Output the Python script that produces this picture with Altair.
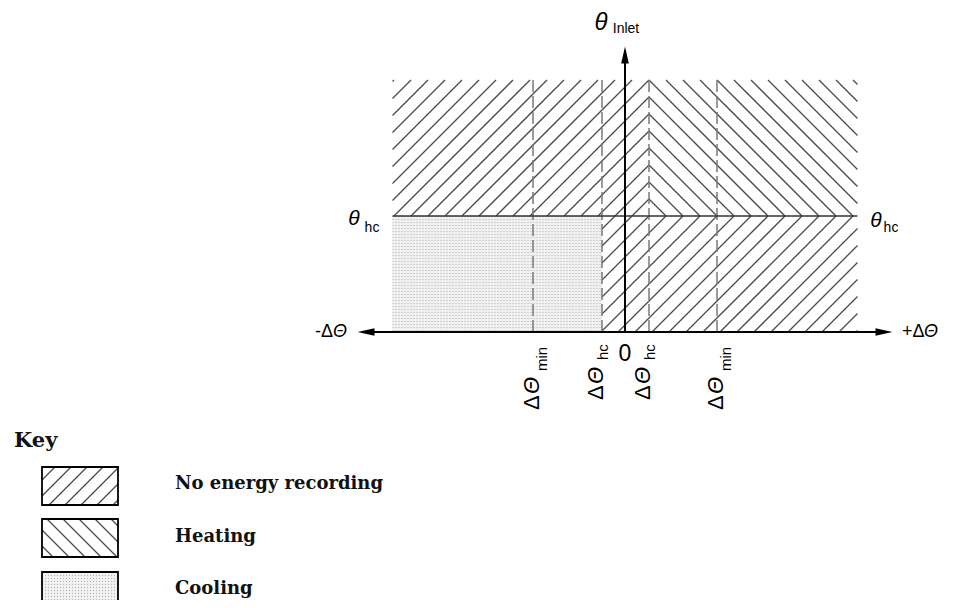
import altair as alt
import pandas as pd
import numpy as np

# ---------------- diagram values (ΔΘ horizontal, θ_Inlet vertical) ----------------
dtheta_min = 92
dtheta_hc_neg = -23
dtheta_hc_pos = 24
theta_hc = 116
theta_top = 252
dtheta_left = -232.5
dtheta_right = 232.5
axis_half = 267
theta_axis_tip = 285

tick_values = [-92, -23, 24, 92]
tick_subscripts = ["min", "hc", "hc", "min"]

region_names = ["No energy recording", "Heating", "No energy recording", "Cooling"]
region_x0 = [-232.5, 24, -23, -232.5]
region_x1 = [24, 232.5, 232.5, -23]
region_y0 = [116, 116, 0, 0]
region_y1 = [252, 252, 116, 116]
region_hatch = ["/", "\\", "/", "dots"]

key_title = "Key"
key_labels = ["No energy recording", "Heating", "Cooling"]
key_hatch = ["/", "\\", "dots"]

# ---------------- scales (1 unit = 1 px) ----------------
W, H = 939, 592
xs = alt.Scale(domain=[-617, 322], nice=False, zero=False)
ys = alt.Scale(domain=[-268, 324], nice=False, zero=False)

HATCH_COLOR = "#4a4a4a"
FONT = "Liberation Sans"
KEY_FONT = "DejaVu Serif"


def hatch_segments(x0, x1, y0, y1, kind, spacing, phase):
    segs = []
    if kind == "/":  # y = x + c  (rises to the right)
        cmin, cmax = y0 - x1, y1 - x0
        k0 = int(np.ceil((cmin - phase) / spacing))
        k1 = int(np.floor((cmax - phase) / spacing))
        for k in range(k0, k1 + 1):
            c = phase + k * spacing
            xa, xb = max(x0, y0 - c), min(x1, y1 - c)
            if xb - xa > 0.3:
                segs.append((xa, xa + c, xb, xb + c))
    else:  # y = -x + c  (falls to the right)
        cmin, cmax = x0 + y0, x1 + y1
        k0 = int(np.ceil((cmin - phase) / spacing))
        k1 = int(np.floor((cmax - phase) / spacing))
        for k in range(k0, k1 + 1):
            c = phase + k * spacing
            xa, xb = max(x0, c - y1), min(x1, c - y0)
            if xb - xa > 0.3:
                segs.append((xa, c - xa, xb, c - xb))
    return segs


def dot_rows(x0, x1, y0, y1, step=3):
    rows = []
    y = y0 + 1.5
    while y < y1:
        rows.append((x0, y, x1, y))
        y += step
    return rows


def seg_df(segs):
    return pd.DataFrame(segs, columns=["x", "y", "x2", "y2"])


def rules(df, **kw):
    return alt.Chart(df).mark_rule(**kw).encode(
        x=alt.X("x:Q", scale=xs, axis=None),
        y=alt.Y("y:Q", scale=ys, axis=None),
        x2="x2:Q",
        y2="y2:Q",
    )


def rects(df, **kw):
    return alt.Chart(df).mark_rect(**kw).encode(
        x=alt.X("x:Q", scale=xs, axis=None),
        y=alt.Y("y:Q", scale=ys, axis=None),
        x2="x2:Q",
        y2="y2:Q",
    )


def texts(rows, **kw):
    df = pd.DataFrame(rows, columns=["x", "y", "t"])
    return alt.Chart(df).mark_text(**kw).encode(
        x=alt.X("x:Q", scale=xs, axis=None),
        y=alt.Y("y:Q", scale=ys, axis=None),
        text="t:N",
    )


layers = []

# ---------------- region fills and hatching ----------------
hatch_all, dots_all, dot_fill = [], [], []
for x0, x1, y0, y1, h in zip(region_x0, region_x1, region_y0, region_y1, region_hatch):
    if h == "/":
        hatch_all += hatch_segments(x0, x1, y0, y1, "/", 17, 7)
    elif h == "\\":
        hatch_all += hatch_segments(x0, x1, y0, y1, "\\", 17, 4)
    else:
        dot_fill.append((x0, y0, x1, y1))
        dots_all += dot_rows(x0, x1, y0, y1)

layers.append(rects(seg_df(dot_fill), color="#f0f0f0"))
layers.append(rules(seg_df(dots_all), color="#b0b0b0", strokeWidth=1, strokeDash=[1, 2]))
layers.append(rules(seg_df(hatch_all), color=HATCH_COLOR, strokeWidth=1.3))

# dashed reference lines
dash_df = pd.DataFrame({"x": tick_values, "x2": tick_values,
                        "y": [0] * 4, "y2": [theta_top] * 4})
layers.append(rules(dash_df, color="#7a7a7a", strokeWidth=1.5, strokeDash=[12, 4]))

# θ_hc line
layers.append(rules(seg_df([(dtheta_left, theta_hc, dtheta_right, theta_hc)]),
                    color="#333333", strokeWidth=1.5))

# axes
layers.append(rules(seg_df([(-axis_half + 8, 0, axis_half - 8, 0),
                            (0, 0, 0, theta_axis_tip - 8)]),
                    color="black", strokeWidth=2))

arrow_right = "M-1,-0.45L1,0L-1,0.45Z"
arrow_left = "M1,-0.45L-1,0L1,0.45Z"
arrow_up = "M-0.45,1L0,-1L0.45,1Z"
for shp, ax, ay in [(arrow_right, axis_half - 8, 0), (arrow_left, -axis_half + 8, 0),
                    (arrow_up, 0, theta_axis_tip - 8)]:
    layers.append(
        alt.Chart(pd.DataFrame({"x": [ax], "y": [ay]}))
        .mark_point(shape=shp, filled=True, size=289, color="black", opacity=1)
        .encode(x=alt.X("x:Q", scale=xs, axis=None), y=alt.Y("y:Q", scale=ys, axis=None))
    )

# ---------------- axis labels ----------------
layers.append(texts([(-24, 309, "θ")],
                    font=FONT, fontSize=24, fontStyle="italic", baseline="middle", align="center"))
layers.append(texts([(-271, 113, "θ"), (251, 111, "θ")],
                    font=FONT, fontSize=21, fontStyle="italic", baseline="middle", align="center"))
layers.append(texts([(1, 303, "Inlet")],
                    font=FONT, fontSize=14, baseline="middle", align="center"))
layers.append(texts([(-253, 104, "hc"), (266, 104, "hc")],
                    font=FONT, fontSize=14, baseline="middle", align="center"))
layers.append(texts([(0, -22, "0")], font=FONT, fontSize=23, baseline="middle", align="center"))
# -ΔΘ / +ΔΘ
layers.append(texts([(-292, 0, "-Δ")], font=FONT, fontSize=18, baseline="middle", align="right"))
layers.append(texts([(-278, 0, "Θ")], font=FONT, fontSize=18, fontStyle="italic",
                    baseline="middle", align="right"))
layers.append(texts([(277, 0, "+Δ")], font=FONT, fontSize=18, baseline="middle", align="left"))
layers.append(texts([(299, 0, "Θ")], font=FONT, fontSize=18, fontStyle="italic",
                    baseline="middle", align="left"))

# rotated tick labels ΔΘ_min / ΔΘ_hc
delta_rows, theta_rows, sub_rows = [], [], []
for t, s in zip(tick_values, tick_subscripts):
    if s == "min":
        main_off, sub_off, y_delta, y_theta, y_sub = -1, 9, -78, -62, -39
    else:
        main_off, sub_off, y_delta, y_theta, y_sub = -6, 1, -68, -52, -28
    delta_rows.append((t + main_off, y_delta, "Δ"))
    theta_rows.append((t + main_off, y_theta, "Θ"))
    sub_rows.append((t + sub_off, y_sub, s))
layers.append(texts(delta_rows, font=FONT, fontSize=22, angle=270, align="left", baseline="middle"))
layers.append(texts(theta_rows, font=FONT, fontSize=22, fontStyle="italic", angle=270,
                    align="left", baseline="middle"))
layers.append(texts(sub_rows, font=FONT, fontSize=15, angle=270, align="left", baseline="middle"))

# ---------------- key ----------------
sw_x0, sw_x1 = -583, -507
sw_tops = [-135, -187, -240]
sw_h = 38
key_hatch_segs, key_dots, key_fill, key_boxes = [], [], [], []
for top, h in zip(sw_tops, key_hatch):
    y1, y0 = top, top - sw_h
    key_boxes.append((sw_x0, y0, sw_x1, y1))
    if h == "/":
        key_hatch_segs += hatch_segments(sw_x0, sw_x1, y0, y1, "/", 16, 3)
    elif h == "\\":
        key_hatch_segs += hatch_segments(sw_x0, sw_x1, y0, y1, "\\", 16, 3)
    else:
        key_fill.append((sw_x0, y0, sw_x1, y1))
        key_dots += dot_rows(sw_x0, sw_x1, y0, y1)

layers.append(rects(seg_df(key_fill), color="#f0f0f0"))
layers.append(rules(seg_df(key_dots), color="#b0b0b0", strokeWidth=1, strokeDash=[1, 2]))
layers.append(rules(seg_df(key_hatch_segs), color=HATCH_COLOR, strokeWidth=1.3))
layers.append(rects(seg_df(key_boxes), fill=None, filled=False, stroke="black", strokeWidth=1.8))

layers.append(texts([(-611, -115, key_title)], font=KEY_FONT, fontSize=21, fontWeight="bold",
                    align="left", baseline="alphabetic", color="#111111"))
layers.append(texts([(-450, -157, key_labels[0]), (-450, -210, key_labels[1]),
                     (-450, -262, key_labels[2])],
                    font=KEY_FONT, fontSize=18, fontWeight="bold",
                    align="left", baseline="alphabetic", color="#111111"))

chart = (
    alt.layer(*layers)
    .properties(width=W, height=H, autosize=alt.AutoSizeParams(type="none"), padding=0)
    .configure_view(stroke=None)
)

chart.save("out.html", embed_options={"renderer": "svg", "actions": False})
